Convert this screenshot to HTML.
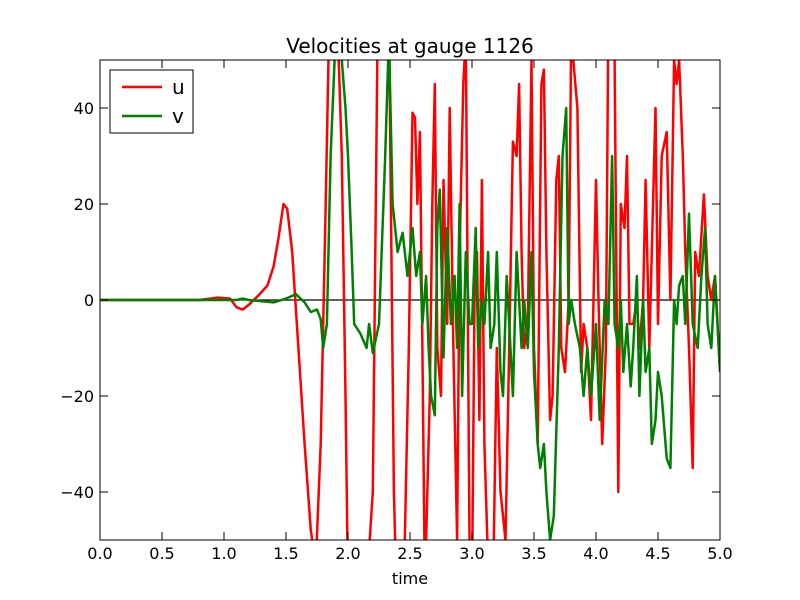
<!DOCTYPE html>
<html><head><meta charset="utf-8"><style>
html,body{margin:0;padding:0;background:#fff;overflow:hidden;width:800px;height:600px}
svg{display:block}
text{font-family:"DejaVu Sans","Liberation Sans",sans-serif;fill:#000}
</style></head><body>
<svg id="c" width="800" height="600" xmlns="http://www.w3.org/2000/svg">
<rect width="800" height="600" fill="#fff"/>
<defs><clipPath id="clip"><rect x="100" y="60" width="620" height="480"/></clipPath></defs>
<text x="410" y="53" font-size="20" text-anchor="middle">Velocities at gauge 1126</text>
<g id="series" clip-path="url(#clip)"></g>
<g id="axes"></g>
<text x="410" y="584" font-size="16" text-anchor="middle">time</text>
<g>
<rect x="110" y="70" width="83" height="63" fill="#fff" stroke="#000" stroke-width="1"/>
<g><line x1="122" y1="87" x2="162" y2="87" stroke="#ff0000" stroke-width="2.5"/><text x="172" y="94" font-size="20">u</text></g>
<g><line x1="122" y1="116" x2="162" y2="116" stroke="#008000" stroke-width="2.5"/><text x="172" y="123" font-size="20">v</text></g>
</g>
</svg>
<script>
const uT=[0,0.8,0.95,1.05,1.1,1.15,1.2,1.28,1.35,1.4,1.44,1.48,1.51,1.55,1.6,1.65,1.7,1.74,1.78,1.82,1.85,1.9,1.95,1.98,2.0,2.1,2.2,2.24,2.28,2.33,2.37,2.4,2.45,2.49,2.52,2.54,2.56,2.58,2.6,2.62,2.66,2.68,2.7,2.72,2.75,2.77,2.8,2.82,2.85,2.88,2.9,2.93,2.95,2.98,3.0,3.02,3.04,3.06,3.08,3.1,3.13,3.17,3.2,3.23,3.27,3.3,3.33,3.36,3.38,3.4,3.42,3.45,3.48,3.5,3.53,3.56,3.58,3.6,3.63,3.65,3.68,3.7,3.72,3.75,3.78,3.8,3.85,3.88,3.9,3.93,3.96,4.0,4.02,4.05,4.08,4.1,4.15,4.18,4.2,4.23,4.25,4.27,4.3,4.33,4.35,4.38,4.4,4.43,4.45,4.48,4.5,4.53,4.57,4.6,4.63,4.65,4.67,4.7,4.72,4.75,4.78,4.8,4.83,4.87,4.9,4.93,4.96,5.0];
const uV=[0,0,0.5,0.3,-1.5,-2,-1,1,3,7,13,20,19,10,-10,-30,-48,-55,-30,20,60,70,30,-20,-60,-80,-40,60,80,60,-40,-70,-60,-10,39,38,20,35,-10,-60,-20,20,45,-10,-20,25,-5,40,-10,-50,10,45,55,-50,-60,0,10,-25,25,-30,-55,-60,-10,-40,-50,-10,33,30,45,10,-10,-5,50,-10,-30,45,48,10,-25,-20,25,30,-10,-15,0,55,40,-15,-5,-10,-25,25,0,-30,-10,60,50,-40,20,15,30,-5,-5,0,-10,0,25,-10,10,40,-5,30,35,0,50,45,50,30,10,-10,-35,10,5,22,5,0,5,-15];
const vT=[0,1.1,1.15,1.2,1.4,1.5,1.58,1.65,1.7,1.75,1.78,1.8,1.83,1.86,1.9,1.95,1.98,2.0,2.03,2.05,2.1,2.15,2.17,2.2,2.25,2.3,2.33,2.36,2.4,2.44,2.48,2.52,2.55,2.58,2.6,2.63,2.65,2.67,2.7,2.72,2.74,2.77,2.8,2.83,2.86,2.88,2.9,2.92,2.95,2.98,3.0,3.03,3.05,3.08,3.1,3.13,3.15,3.18,3.2,3.23,3.25,3.28,3.3,3.33,3.36,3.4,3.42,3.45,3.48,3.5,3.53,3.55,3.58,3.6,3.63,3.66,3.7,3.73,3.76,3.78,3.8,3.83,3.87,3.9,3.93,3.96,4.0,4.03,4.07,4.1,4.13,4.15,4.18,4.2,4.22,4.25,4.28,4.3,4.33,4.35,4.38,4.4,4.43,4.45,4.48,4.5,4.53,4.57,4.6,4.63,4.65,4.67,4.7,4.72,4.75,4.78,4.82,4.85,4.88,4.9,4.93,4.96,5.0];
const vV=[0,0,0.3,0,-0.5,0.3,1.2,-0.5,-2.5,-2,-4,-10,-5,30,55,50,40,30,10,-5,-7,-10,-5,-11,-5,30,55,20,10,14,5,15,5,10,-5,5,-10,-20,-24,15,23,-12,15,-5,5,-10,20,-20,10,-5,-5,15,-10,0,-5,10,-10,-5,10,-15,-20,5,-5,-20,10,-10,0,-10,10,-15,-30,-35,-30,-40,-50,-45,-10,30,40,-5,0,-5,-10,-20,-10,-20,-5,-25,0,-5,30,-5,-10,0,-15,-5,-18,-10,5,-20,0,-15,-10,-30,-25,-15,-20,-33,-35,0,-5,3,5,-5,18,-5,-10,5,15,-5,-10,5,-15];
const xTicks=[0,0.5,1,1.5,2,2.5,3,3.5,4,4.5,5];
const xLabels=["0.0","0.5","1.0","1.5","2.0","2.5","3.0","3.5","4.0","4.5","5.0"];
const yTicks=[-40,-20,0,20,40];
const yLabels=["\u221240","\u221220","0","20","40"];
const NS="http://www.w3.org/2000/svg";
const X=t=>100+t/5*620, Y=v=>300-v*4.8;
function mk(tag,attrs,parent){const e=document.createElementNS(NS,tag);for(const k in attrs)e.setAttribute(k,attrs[k]);parent.appendChild(e);return e;}
const S=document.getElementById('series'),A=document.getElementById('axes');
const zl=mk('line',{x1:100,y1:Y(0),x2:720,y2:Y(0),stroke:'#000','stroke-width':1.2},S);


function path(T,V,col,name){const d=T.map((t,i)=>(i?'L':'M')+X(t).toFixed(1)+' '+Y(V[i]).toFixed(1)).join('');
const p=mk('path',{d:d,fill:'none',stroke:col,'stroke-width':2.5,'stroke-linejoin':'round'},S);

}
path(uT,uV,'#ff0000','series-u');
path(vT,vV,'#008000','series-v');
const fr=mk('rect',{x:100,y:60,width:620,height:480,fill:'none',stroke:'#000','stroke-width':1},A);


xTicks.forEach((t,i)=>{const x=X(t);
mk('line',{x1:x,y1:540,x2:x,y2:532,stroke:'#000'},A);mk('line',{x1:x,y1:60,x2:x,y2:68,stroke:'#000'},A);
const tx=mk('text',{x:x,y:559,'font-size':16,'text-anchor':'middle'},A);tx.textContent=xLabels[i];

});
yTicks.forEach((v,i)=>{const y=Y(v);
mk('line',{x1:100,y1:y,x2:108,y2:y,stroke:'#000'},A);mk('line',{x1:720,y1:y,x2:712,y2:y,stroke:'#000'},A);
const tx=mk('text',{x:94,y:y+6,'font-size':16,'text-anchor':'end'},A);tx.textContent=yLabels[i];

});
</script>
</body></html>
